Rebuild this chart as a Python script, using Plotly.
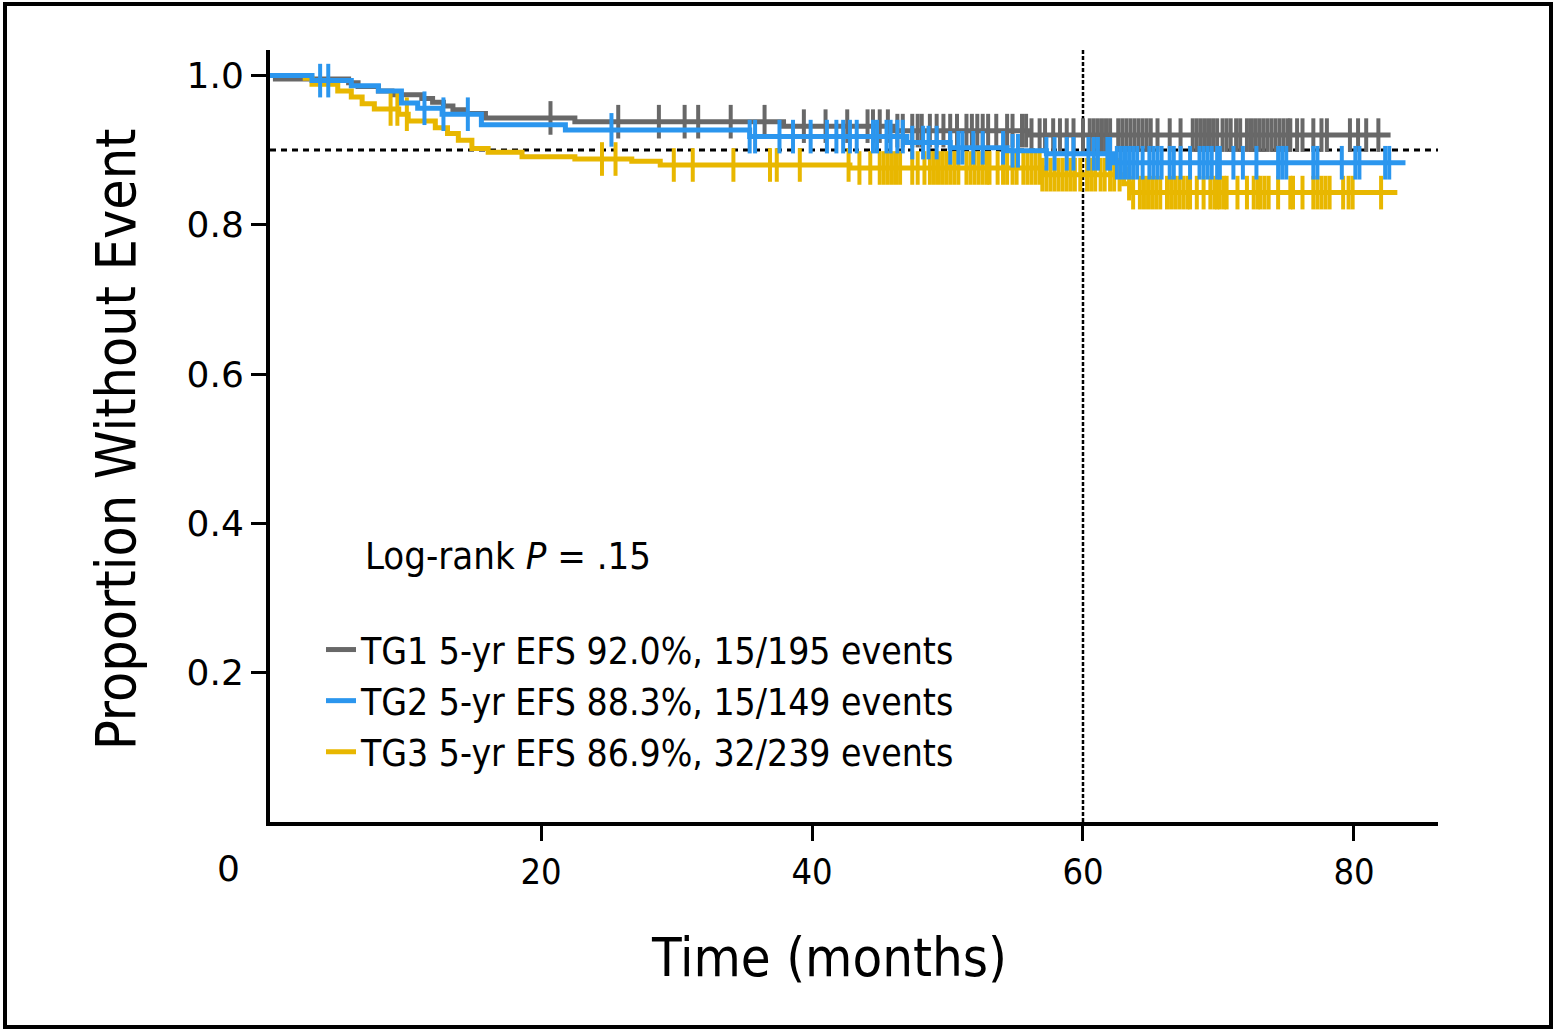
import numpy as np
import plotly.graph_objects as go

# ---------------- data ----------------
groups = ["TG1", "TG2", "TG3"]
legend_labels = [
    "TG1 5-yr EFS 92.0%, 15/195 events",
    "TG2 5-yr EFS 88.3%, 15/149 events",
    "TG3 5-yr EFS 86.9%, 32/239 events",
]
colors = ["#686868", "#2b96ee", "#e8b700"]

tg1_times = [0, 0.4, 5.8, 6.5, 8.0, 9.0, 11.2, 12.0, 12.8, 13.5, 14.5, 15.9, 22.5, 37.9, 46.0, 56.0]
tg1_surv = [1.0, 0.995, 0.990, 0.985, 0.979, 0.974, 0.969, 0.964, 0.959, 0.954, 0.949, 0.943, 0.938, 0.932, 0.926, 0.920]
tg1_end = 82.7
tg1_censor = [20.7, 25.7, 28.7, 30.6, 31.6, 34.0, 36.5, 39.4, 41.0, 42.6, 44.1, 44.5, 45.0, 45.6,
              46.3, 46.7, 47.4, 47.8, 48.1, 48.7, 49.2, 49.7, 50.2, 50.7, 51.4, 51.8, 52.2, 52.6,
              53.0, 53.6, 54.4, 54.8, 55.5, 55.8, 56.2, 56.8, 57.2, 57.8, 58.3, 58.8, 59.3, 60.0,
              60.5, 60.8, 61.1, 61.4, 61.7, 62.0, 62.6, 62.9, 63.2, 63.5, 63.8, 64.1, 64.4, 64.7,
              65.0, 65.5, 66.4, 67.2, 68.1, 68.4, 68.7, 69.0, 69.3, 69.6, 69.9, 70.3, 70.6, 70.9,
              71.3, 71.6, 72.1, 72.4, 72.7, 73.0, 73.3, 73.6, 73.9, 74.2, 74.5, 74.8, 75.1, 75.3,
              75.8, 76.2, 77.0, 77.6, 78.0, 79.7, 80.3, 80.9, 81.8]

tg2_times = [0, 3.1, 6.0, 8.0, 9.7, 10.9, 12.7, 15.6, 21.8, 35.4, 47.0, 50.2, 54.4, 57.3, 62.3]
tg2_surv = [1.0, 0.993, 0.986, 0.979, 0.963, 0.956, 0.948, 0.934, 0.927, 0.918, 0.910, 0.903, 0.899, 0.895, 0.883]
tg2_end = 83.8
tg2_censor = [3.7, 4.3, 11.4, 12.8, 14.6, 25.2, 35.4, 35.8, 37.6, 38.6, 39.9, 41.1, 41.8, 42.3,
              42.8, 43.3, 44.5, 44.8, 45.5, 45.8, 46.3, 46.7, 47.4, 48.2, 48.6, 49.2, 50.2, 50.8,
              51.1, 51.9, 52.6, 54.1, 54.8, 55.2, 57.3, 57.9, 58.8, 59.3, 60.4, 60.8, 61.1, 61.8,
              62.0, 62.5, 62.8, 63.1, 63.4, 63.7, 64.0, 64.4, 64.9, 65.2, 65.5, 65.8, 66.4, 66.7,
              67.2, 67.9, 68.6, 68.9, 69.2, 69.5, 69.9, 70.1, 71.1, 71.8, 72.8, 74.4, 74.7, 75.0,
              77.0, 77.3, 79.1, 80.1, 80.4, 82.3, 82.6]

tg3_times = [0, 2.6, 3.1, 5.0, 6.0, 6.8, 7.7, 9.5, 10.2, 12.2, 13.1, 13.9, 14.9, 16.1, 18.6,
             22.5, 26.7, 28.8, 42.8, 57.0, 63.0, 63.5]
tg3_surv = [1.0, 0.996, 0.988, 0.979, 0.971, 0.962, 0.955, 0.948, 0.939, 0.930, 0.922, 0.913,
            0.902, 0.897, 0.891, 0.888, 0.885, 0.880, 0.876, 0.867, 0.855, 0.843]
tg3_end = 83.2
tg3_censor = [8.9, 9.4, 10.1, 24.5, 25.5, 29.8, 31.2, 34.2, 36.9, 37.4, 39.1, 42.7, 43.5, 44.3,
              45.0, 45.3, 45.6, 45.9, 46.2, 46.5, 47.4, 47.8, 48.3, 48.7, 49.0, 49.3, 49.6, 49.9,
              50.2, 50.5, 50.8, 51.4, 51.7, 52.0, 52.3, 52.6, 52.9, 53.1, 53.7, 54.1, 54.4, 54.8,
              55.1, 55.6, 55.9, 56.2, 56.5, 56.8, 57.0, 57.3, 57.6, 57.9, 58.2, 58.5, 58.8, 59.1,
              59.4, 59.8, 60.3, 60.6, 60.9, 61.3, 61.6, 62.0, 62.3, 62.7, 63.4, 63.7, 64.2, 64.5,
              64.8, 65.1, 65.4, 65.7, 66.2, 66.5, 66.8, 67.1, 67.4, 67.7, 67.9, 68.4, 68.9, 69.4,
              69.7, 69.9, 70.1, 70.4, 70.6, 71.4, 72.1, 72.6, 72.9, 73.1, 73.4, 73.7, 74.4, 75.3,
              75.5, 76.2, 77.0, 77.3, 77.6, 77.9, 78.2, 79.2, 79.6, 79.9, 82.0]

x_ticks = [20, 40, 60, 80]
y_ticks = [0.2, 0.4, 0.6, 0.8, 1.0]
reference_efs = 0.9
landmark_month = 60

series = [
    (tg1_times, tg1_surv, tg1_end, tg1_censor),
    (tg2_times, tg2_surv, tg2_end, tg2_censor),
    (tg3_times, tg3_surv, tg3_end, tg3_censor),
]

NARROW = "DejaVu Sans Condensed, Liberation Sans Narrow, sans-serif"
ROUND = "DejaVu Sans, sans-serif"

fig = go.Figure()

draw_order = [0, 2, 1]
for i in draw_order:
    t, s, end, cens = series[i]
    xs = list(t) + [end]
    ys = list(s) + [s[-1]]
    fig.add_trace(go.Scatter(
        x=xs, y=ys, mode="lines", line=dict(color=colors[i], width=5, shape="hv"),
        name=legend_labels[i], legendgroup=groups[i], legendrank=i + 1, showlegend=True,
        hoverinfo="skip",
    ))
    idx = np.searchsorted(np.array(t), np.array(cens), side="right") - 1
    cy = np.array(s)[idx]
    fig.add_trace(go.Scatter(
        x=cens, y=cy, mode="markers",
        marker=dict(symbol="line-ns", size=24, line=dict(color=colors[i], width=4)),
        legendgroup=groups[i], showlegend=False, hoverinfo="skip",
    ))

# reference lines
fig.add_shape(type="line", xref="x", yref="y", x0=0, x1=86.5, y0=reference_efs, y1=reference_efs,
              line=dict(color="black", width=3, dash="6px,5px"), layer="below")
fig.add_shape(type="line", xref="x", yref="y", x0=landmark_month, x1=landmark_month, y0=0, y1=1.034,
              line=dict(color="black", width=2.5, dash="4px,2px"), layer="below")

# outer frame
fig.add_shape(type="rect", xref="paper", yref="paper",
              x0=(5 - 270) / 1168, x1=(1551 - 270) / 1168,
              y0=(822 - 1027) / 772, y1=(822 - 4) / 772,
              line=dict(color="black", width=4))

annotations = [
    dict(text="Log-rank <i>P</i> = .15", x=(363 - 270) / 1168, y=(822 - 556) / 772,
         xref="paper", yref="paper", xanchor="left", yanchor="middle", showarrow=False,
         font=dict(family=NARROW, size=38, color="black")),
    dict(text="0", x=(228 - 270) / 1168, y=(822 - 868) / 772, xref="paper", yref="paper",
         xanchor="center", yanchor="middle", showarrow=False,
         font=dict(family=ROUND, size=36, color="black")),
    dict(text="Time (months)", x=(829 - 270) / 1168, y=(822 - 957) / 772, xref="paper", yref="paper",
         xanchor="center", yanchor="middle", showarrow=False,
         font=dict(family=NARROW, size=54, color="black")),
    dict(text="Proportion Without Event", x=(116 - 270) / 1168, y=(822 - 440) / 772,
         xref="paper", yref="paper", xanchor="center", yanchor="middle", showarrow=False,
         textangle=-90, font=dict(family=NARROW, size=55, color="black")),
]

fig.update_layout(
    width=1557, height=1031,
    margin=dict(l=270, r=119, t=50, b=209),
    paper_bgcolor="white", plot_bgcolor="white",
    showlegend=True,
    legend=dict(x=(321 - 270) / 1168, y=(822 - 619) / 772, xanchor="left", yanchor="top",
                font=dict(family=NARROW, size=37, color="black"),
                bgcolor="rgba(0,0,0,0)", tracegroupgap=6, itemwidth=30,
                traceorder="normal"),
    annotations=annotations,
    xaxis=dict(range=[0, 86.2], tickvals=x_ticks, ticktext=[str(v) for v in x_ticks],
               showgrid=False, zeroline=False, showline=True, linecolor="black", linewidth=4,
               ticks="outside", ticklen=15, tickwidth=3, tickcolor="black",
               tickfont=dict(family=NARROW, size=36, color="black")),
    yaxis=dict(range=[0, 1.034], tickvals=y_ticks, ticktext=["%.1f" % v for v in y_ticks],
               showgrid=False, zeroline=False, showline=True, linecolor="black", linewidth=4,
               ticks="outside", ticklen=15, tickwidth=3, tickcolor="black",
               tickfont=dict(family=ROUND, size=36, color="black")),
)

fig.write_html("out.html")
